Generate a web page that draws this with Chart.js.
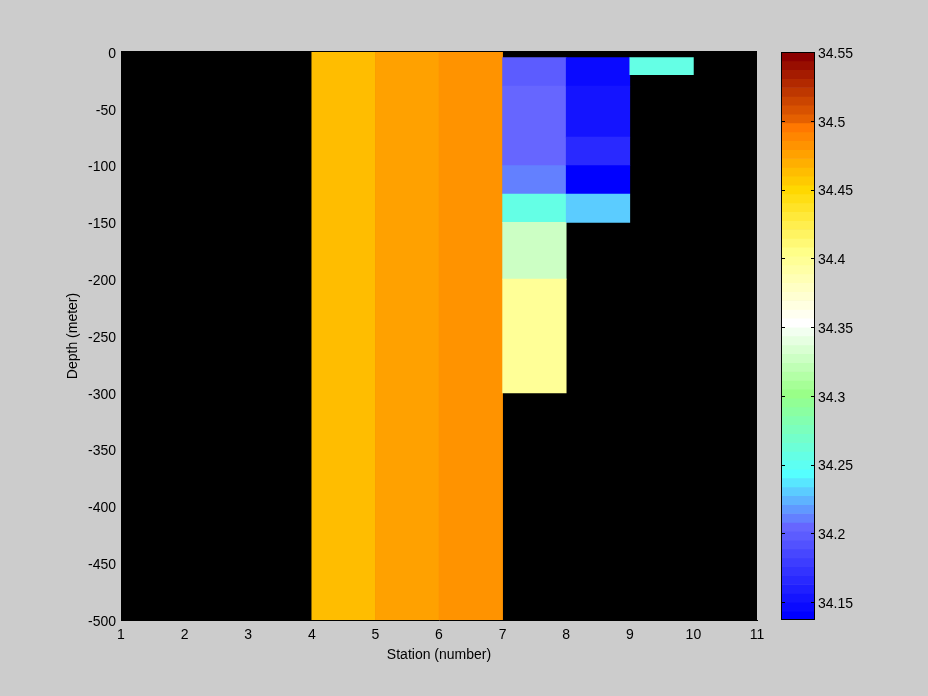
<!DOCTYPE html>
<html>
<head>
<meta charset="utf-8">
<title>Salinity section</title>
<script src="https://cdn.jsdelivr.net/npm/chart.js@4.4.1/dist/chart.umd.min.js"></script>
<style>
  html, body { margin: 0; padding: 0; background: #cccccc; }
  #wrap { position: relative; width: 928px; height: 696px; }
  #main { position: absolute; left: 0; top: 0; }
  #cbar { position: absolute; left: 760px; top: 0; }
</style>
</head>
<body>
<div id="wrap">
  <canvas id="main" width="928" height="696"></canvas>
  <canvas id="cbar" width="168" height="696"></canvas>
</div>
<script>
// --------------------- Data ---------------------
// one entry per coloured cell: left station edge, top / bottom depth (m), salinity
const cellStation  = [4, 5, 6, 7, 7, 7, 7, 7, 7, 8, 8, 8, 8, 8, 9];
const cellTop      = [0, 0, 0, -5, -30, -100, -125, -150, -200, -5, -30, -75, -100, -125, -5];
const cellBottom   = [-500, -500, -500, -30, -100, -125, -150, -200, -300, -30, -75, -100, -125, -150, -20];
const cellSalinity = [34.462, 34.475, 34.482,
                      34.198, 34.205, 34.211, 34.256, 34.327, 34.398,
                      34.147, 34.153, 34.166, 34.140, 34.231,
                      34.257];

const stationTicks = [1, 2, 3, 4, 5, 6, 7, 8, 9, 10, 11];
const depthTicks = [0, -50, -100, -150, -200, -250, -300, -350, -400, -450, -500];
const cbarTicks = [34.15, 34.2, 34.25, 34.3, 34.35, 34.4, 34.45, 34.5, 34.55];
const cMin = 34.137;
const cMax = 34.55;

// --------------------- Colormap (64 bands) ---------------------
const nBands = 64;
const cmapStops = [
  [0,  [0, 0, 255]],
  [10, [102, 102, 255]],
  [16, [85, 255, 255]],
  [25, [153, 255, 136]],
  [33, [255, 255, 255]],
  [41, [255, 255, 136]],
  [48, [255, 216, 0]],
  [55, [255, 120, 0]],
  [56, [229, 96, 0]],
  [63, [139, 0, 0]]
];

function bandColor(k){
  for(let i = 1; i < cmapStops.length; i++){
    const [k0, c0] = cmapStops[i-1];
    const [k1, c1] = cmapStops[i];
    if(k <= k1){
      const t = (k - k0) / (k1 - k0);
      const c = c0.map((v, j) => Math.round(v + (c1[j] - v) * t));
      return `rgb(${c[0]},${c[1]},${c[2]})`;
    }
  }
  return 'rgb(139,0,0)';
}

function colorFor(v){
  let k = Math.floor((v - cMin) / (cMax - cMin) * nBands);
  k = Math.max(0, Math.min(nBands - 1, k));
  return bandColor(k);
}

const font = { family: '"Liberation Sans", Arial, sans-serif', size: 14 };

// --------------------- Main section plot ---------------------
const cells = cellStation.map((st, i) => ({
  x: st + 0.5,
  y: [cellTop[i], cellBottom[i]],
  s: cellSalinity[i]
}));

const blackArea = {
  id: 'blackArea',
  beforeDatasetsDraw(chart){
    const { ctx, chartArea: a } = chart;
    ctx.save();
    ctx.fillStyle = '#000';
    ctx.fillRect(a.left, a.top - 1, a.right - a.left, a.bottom - a.top + 1);
    ctx.restore();
  }
};

new Chart(document.getElementById('main'), {
  type: 'bar',
  data: {
    datasets: [{
      label: 'Salinity',
      data: cells,
      backgroundColor: (c) => colorFor(c.raw ? c.raw.s : cMin),
      borderWidth: 0,
      grouped: false,
      barPercentage: 1,
      categoryPercentage: 1
    }]
  },
  options: {
    responsive: false,
    animation: false,
    events: [],
    layout: { padding: { left: 0, top: 52, right: 171, bottom: 0 } },
    plugins: { legend: { display: false }, tooltip: { enabled: false } },
    scales: {
      x: {
        type: 'linear', min: 1, max: 11, offset: false,
        grid: { display: false, drawTicks: false, offset: false },
        border: { color: '#000' },
        afterBuildTicks: (s) => { s.ticks = stationTicks.map(v => ({ value: v })); },
        afterFit: (s) => { s.height = 76; },
        ticks: { color: '#000', font, padding: 7, maxRotation: 0, autoSkip: false },
        title: { display: true, text: 'Station (number)', color: '#000', font, padding: { top: 0, bottom: 32 } }
      },
      y: {
        type: 'linear', min: -500, max: 0,
        grid: { display: false, drawTicks: false },
        border: { color: '#000' },
        afterBuildTicks: (s) => { s.ticks = depthTicks.map(v => ({ value: v })); },
        afterFit: (s) => { s.width = 121; },
        ticks: { color: '#000', font, padding: 5, autoSkip: false, labelOffset: 2 },
        title: { display: true, text: 'Depth (meter)', color: '#000', font, padding: { top: 65, bottom: 0 } }
      }
    }
  },
  plugins: [blackArea]
});

// --------------------- Colorbar ---------------------
const bw = (cMax - cMin) / nBands;
const bands = [];
for(let k = 0; k < nBands; k++){
  bands.push({ x: 'c', y: [cMin + k * bw, cMin + (k + 1) * bw], k });
}

const cbarFrame = {
  id: 'cbarFrame',
  afterDatasetsDraw(chart){
    const { ctx, chartArea: a, scales: { y } } = chart;
    ctx.save();
    ctx.strokeStyle = '#000';
    ctx.lineWidth = 1;
    cbarTicks.forEach(v => {
      const py = Math.round(y.getPixelForValue(v)) + 0.5;
      ctx.beginPath();
      ctx.moveTo(a.left, py); ctx.lineTo(a.left + 4, py);
      ctx.moveTo(a.right - 4, py); ctx.lineTo(a.right, py);
      ctx.stroke();
    });
    ctx.strokeRect(Math.round(a.left) + 0.5, Math.round(a.top) + 0.5,
                   Math.round(a.right - a.left) - 1, Math.round(a.bottom - a.top) - 1);
    ctx.restore();
  }
};

new Chart(document.getElementById('cbar'), {
  type: 'bar',
  data: {
    labels: ['c'],
    datasets: [{
      data: bands,
      backgroundColor: (c) => bandColor(c.raw ? c.raw.k : 0),
      borderWidth: 0,
      barPercentage: 1,
      categoryPercentage: 1
    }]
  },
  options: {
    responsive: false,
    animation: false,
    events: [],
    layout: { padding: { left: 21, top: 52, right: 0, bottom: 76 } },
    plugins: { legend: { display: false }, tooltip: { enabled: false } },
    scales: {
      x: { display: false },
      y: {
        position: 'right', min: cMin, max: cMax,
        grid: { display: false, drawTicks: false },
        border: { display: false },
        afterBuildTicks: (s) => { s.ticks = cbarTicks.map(v => ({ value: v })); },
        afterFit: (s) => { s.width = 113; },
        ticks: { color: '#000', font, padding: 3, autoSkip: false, labelOffset: 2,
                 callback: (v) => String(+v.toFixed(2)) }
      }
    }
  },
  plugins: [cbarFrame]
});
</script>
</body>
</html>
